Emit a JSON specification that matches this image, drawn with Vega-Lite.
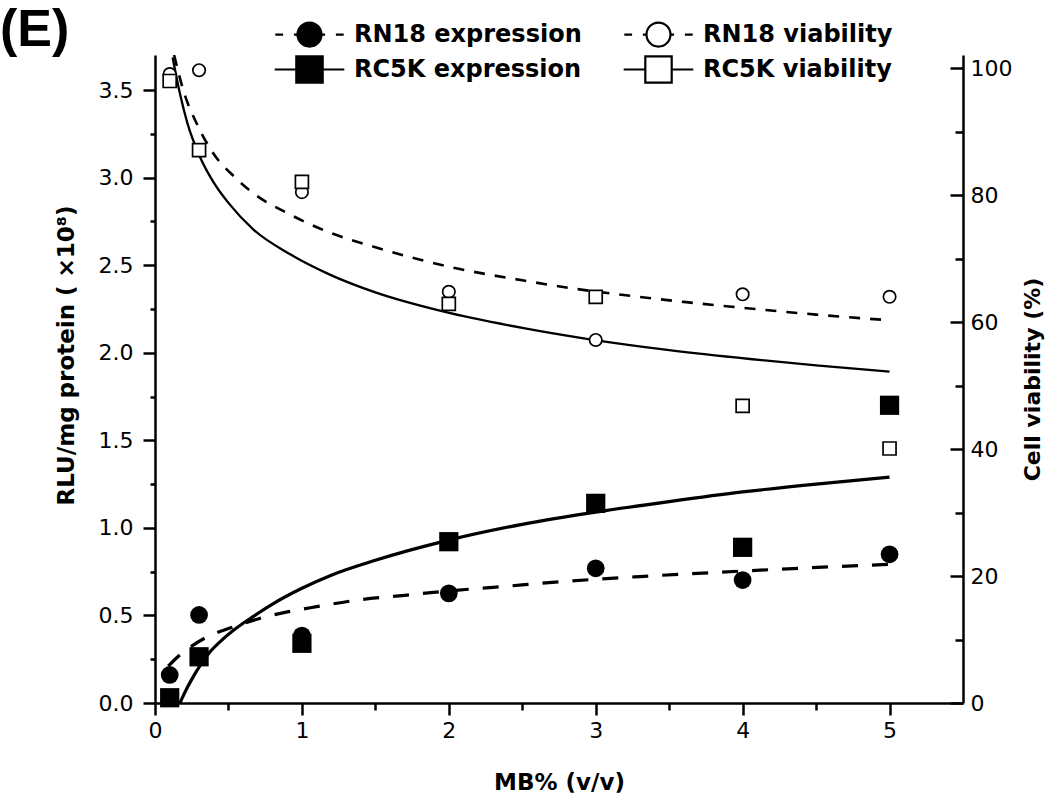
{
  "$schema": "https://vega.github.io/schema/vega-lite/v6.json",
  "width": 808,
  "height": 648,
  "autosize": {"type": "none"},
  "padding": {"left": 155, "top": 55, "right": 87, "bottom": 102},
  "background": "white",
  "title": {"text": "(E)", "anchor": "start", "frame": "group", "orient": "top", "dx": -155, "dy": 46, "font": "Liberation Sans", "fontSize": 52, "fontWeight": "bold", "color": "black", "offset": 10},
  "config": {"view": {"stroke": null}, "font": "DejaVu Sans"},
  "datasets": {
    "points": [
      {"series": "RN18 expression", "x": 0.1, "y": 0.16},
      {"series": "RN18 expression", "x": 0.3, "y": 0.503},
      {"series": "RN18 expression", "x": 1, "y": 0.385},
      {"series": "RN18 expression", "x": 2, "y": 0.626},
      {"series": "RN18 expression", "x": 3, "y": 0.769},
      {"series": "RN18 expression", "x": 4, "y": 0.702},
      {"series": "RN18 expression", "x": 5, "y": 0.849},
      {"series": "RC5K expression", "x": 0.1, "y": 0.03},
      {"series": "RC5K expression", "x": 0.3, "y": 0.264},
      {"series": "RC5K expression", "x": 1, "y": 0.341},
      {"series": "RC5K expression", "x": 2, "y": 0.921},
      {"series": "RC5K expression", "x": 3, "y": 1.14},
      {"series": "RC5K expression", "x": 4, "y": 0.889},
      {"series": "RC5K expression", "x": 5, "y": 1.7},
      {"series": "RN18 viability", "x": 0.1, "y": 99.1},
      {"series": "RN18 viability", "x": 0.3, "y": 99.7},
      {"series": "RN18 viability", "x": 1, "y": 80.5},
      {"series": "RN18 viability", "x": 2, "y": 64.8},
      {"series": "RN18 viability", "x": 3, "y": 57.2},
      {"series": "RN18 viability", "x": 4, "y": 64.4},
      {"series": "RN18 viability", "x": 5, "y": 64.0},
      {"series": "RC5K viability", "x": 0.1, "y": 98.0},
      {"series": "RC5K viability", "x": 0.3, "y": 87.1},
      {"series": "RC5K viability", "x": 1, "y": 82.1},
      {"series": "RC5K viability", "x": 2, "y": 62.9},
      {"series": "RC5K viability", "x": 3, "y": 64.0},
      {"series": "RC5K viability", "x": 4, "y": 46.8},
      {"series": "RC5K viability", "x": 5, "y": 40.1}
    ],
    "fits": [
      {"series": "RN18 expression", "x": 0.09, "y": 0.21},
      {"series": "RN18 expression", "x": 0.15, "y": 0.26},
      {"series": "RN18 expression", "x": 0.25, "y": 0.325},
      {"series": "RN18 expression", "x": 0.35, "y": 0.375},
      {"series": "RN18 expression", "x": 0.5, "y": 0.425},
      {"series": "RN18 expression", "x": 0.7, "y": 0.48},
      {"series": "RN18 expression", "x": 0.9, "y": 0.52},
      {"series": "RN18 expression", "x": 1.1, "y": 0.55},
      {"series": "RN18 expression", "x": 1.4, "y": 0.59},
      {"series": "RN18 expression", "x": 1.7, "y": 0.615},
      {"series": "RN18 expression", "x": 2.0, "y": 0.64},
      {"series": "RN18 expression", "x": 2.3, "y": 0.66},
      {"series": "RN18 expression", "x": 2.8, "y": 0.695},
      {"series": "RN18 expression", "x": 3.3, "y": 0.722},
      {"series": "RN18 expression", "x": 3.8, "y": 0.745},
      {"series": "RN18 expression", "x": 4.4, "y": 0.77},
      {"series": "RN18 expression", "x": 5.0, "y": 0.792},
      {"series": "RC5K expression", "x": 0.17, "y": 0.0},
      {"series": "RC5K expression", "x": 0.2, "y": 0.055},
      {"series": "RC5K expression", "x": 0.25, "y": 0.135},
      {"series": "RC5K expression", "x": 0.3, "y": 0.205},
      {"series": "RC5K expression", "x": 0.363, "y": 0.28},
      {"series": "RC5K expression", "x": 0.45, "y": 0.355},
      {"series": "RC5K expression", "x": 0.55, "y": 0.425},
      {"series": "RC5K expression", "x": 0.67, "y": 0.495},
      {"series": "RC5K expression", "x": 0.8, "y": 0.565},
      {"series": "RC5K expression", "x": 1.0, "y": 0.655},
      {"series": "RC5K expression", "x": 1.2, "y": 0.73},
      {"series": "RC5K expression", "x": 1.5, "y": 0.815},
      {"series": "RC5K expression", "x": 2.0, "y": 0.93},
      {"series": "RC5K expression", "x": 2.5, "y": 1.02},
      {"series": "RC5K expression", "x": 3.0, "y": 1.09},
      {"series": "RC5K expression", "x": 3.5, "y": 1.15},
      {"series": "RC5K expression", "x": 4.0, "y": 1.205},
      {"series": "RC5K expression", "x": 4.5, "y": 1.25},
      {"series": "RC5K expression", "x": 5.0, "y": 1.29},
      {"series": "RN18 viability", "x": 0.13, "y": 102.1},
      {"series": "RN18 viability", "x": 0.2, "y": 96.0},
      {"series": "RN18 viability", "x": 0.284, "y": 91.3},
      {"series": "RN18 viability", "x": 0.4, "y": 86.5},
      {"series": "RN18 viability", "x": 0.55, "y": 82.7},
      {"series": "RN18 viability", "x": 0.67, "y": 80.3},
      {"series": "RN18 viability", "x": 0.9, "y": 77.2},
      {"series": "RN18 viability", "x": 1.18, "y": 74.2},
      {"series": "RN18 viability", "x": 1.5, "y": 71.8},
      {"series": "RN18 viability", "x": 2.05, "y": 68.5},
      {"series": "RN18 viability", "x": 2.5, "y": 66.6},
      {"series": "RN18 viability", "x": 2.85, "y": 65.3},
      {"series": "RN18 viability", "x": 3.15, "y": 64.4},
      {"series": "RN18 viability", "x": 3.6, "y": 63.2},
      {"series": "RN18 viability", "x": 4.03, "y": 62.2},
      {"series": "RN18 viability", "x": 4.5, "y": 61.2},
      {"series": "RN18 viability", "x": 5.0, "y": 60.3},
      {"series": "RC5K viability", "x": 0.12, "y": 101.7},
      {"series": "RC5K viability", "x": 0.17, "y": 96.0},
      {"series": "RC5K viability", "x": 0.22, "y": 91.4},
      {"series": "RC5K viability", "x": 0.307, "y": 86.0},
      {"series": "RC5K viability", "x": 0.4, "y": 82.0},
      {"series": "RC5K viability", "x": 0.5, "y": 78.8},
      {"series": "RC5K viability", "x": 0.67, "y": 74.6},
      {"series": "RC5K viability", "x": 0.92, "y": 70.7},
      {"series": "RC5K viability", "x": 1.19, "y": 67.5},
      {"series": "RC5K viability", "x": 1.5, "y": 64.7},
      {"series": "RC5K viability", "x": 1.96, "y": 61.7},
      {"series": "RC5K viability", "x": 2.5, "y": 59.1},
      {"series": "RC5K viability", "x": 2.96, "y": 57.3},
      {"series": "RC5K viability", "x": 3.5, "y": 55.6},
      {"series": "RC5K viability", "x": 4.05, "y": 54.2},
      {"series": "RC5K viability", "x": 4.5, "y": 53.2},
      {"series": "RC5K viability", "x": 5.0, "y": 52.2}
    ]
  },
  "resolve": {"scale": {"y": "independent"}},
  "layer": [
    {
      "layer": [
        {
          "data": {"name": "fits"},
          "transform": [{"filter": "datum.series == 'RN18 expression'"}],
          "mark": {"type": "line", "stroke": "black", "strokeWidth": 3.2, "strokeDash": [16, 14], "interpolate": "monotone", "clip": true},
          "encoding": {
            "x": {"field": "x", "type": "quantitative", "scale": {"domain": [0, 5.5], "nice": false},
              "axis": {"values": [0, 0.5, 1, 1.5, 2, 2.5, 3, 3.5, 4, 4.5, 5], "labelExpr": "datum.value % 1 == 0 ? format(datum.value, 'd') : ''",
                "title": "MB% (v/v)", "tickSize": {"condition": {"test": "datum.value % 1 == 0", "value": 12}, "value": 7},
                "domainColor": "black", "domainWidth": 2.5, "tickColor": "black", "tickWidth": 2.5, "grid": false,
                "labelFont": "DejaVu Sans", "labelFontSize": 22, "labelColor": "black", "labelPadding": 5, "labelFlush": false, "labelOverlap": false,
                "titleFont": "DejaVu Sans", "titleFontWeight": "bold", "titleFontSize": 23, "titleColor": "black", "titlePadding": 30}},
            "y": {"field": "y", "type": "quantitative", "scale": {"domain": [0, 3.7], "nice": false},
              "axis": {"orient": "left", "values": [0, 0.25, 0.5, 0.75, 1, 1.25, 1.5, 1.75, 2, 2.25, 2.5, 2.75, 3, 3.25, 3.5],
                "labelExpr": "(datum.value * 4) % 2 == 0 ? format(datum.value, '.1f') : ''",
                "title": "RLU/mg protein ( ×10⁸)", "titleY": 300, "tickSize": {"condition": {"test": "(datum.value * 4) % 2 == 0", "value": 12}, "value": 5},
                "domainColor": "black", "domainWidth": 2.5, "tickColor": "black", "tickWidth": 2.5, "grid": false,
                "labelFont": "DejaVu Sans", "labelFontSize": 22, "labelColor": "black", "labelPadding": 10, "labelOverlap": false, "labelFlush": false,
                "titleFont": "DejaVu Sans", "titleFontWeight": "bold", "titleFontSize": 23, "titleColor": "black", "titlePadding": 20}}
          }
        },
        {
          "data": {"name": "fits"},
          "transform": [{"filter": "datum.series == 'RC5K expression'"}],
          "mark": {"type": "line", "stroke": "black", "strokeWidth": 3.2, "interpolate": "monotone", "clip": true},
          "encoding": {
            "x": {"field": "x", "type": "quantitative"},
            "y": {"field": "y", "type": "quantitative"}
          }
        },
        {
          "data": {"name": "points"},
          "transform": [{"filter": "datum.series == 'RN18 expression'"}],
          "mark": {"type": "point", "shape": "circle", "filled": true, "fill": "black", "stroke": "black", "strokeWidth": 0, "size": 314, "opacity": 1},
          "encoding": {
            "x": {"field": "x", "type": "quantitative"},
            "y": {"field": "y", "type": "quantitative"}
          }
        },
        {
          "data": {"name": "points"},
          "transform": [{"filter": "datum.series == 'RC5K expression'"}],
          "mark": {"type": "point", "shape": "square", "filled": true, "fill": "black", "stroke": "black", "strokeWidth": 0, "size": 370, "opacity": 1},
          "encoding": {
            "x": {"field": "x", "type": "quantitative"},
            "y": {"field": "y", "type": "quantitative"}
          }
        },
        {
          "data": {"name": "points"},
          "transform": [{"filter": "datum.series == 'RN18 expression' || datum.series == 'RC5K expression'"}],
          "mark": {"type": "point", "filled": true, "stroke": "black", "strokeWidth": 2.2, "size": 576, "opacity": 0},
          "encoding": {
            "x": {"field": "x", "type": "quantitative"},
            "y": {"field": "y", "type": "quantitative"},
            "shape": {"field": "series", "type": "nominal",
              "scale": {"domain": ["RN18 expression", "RC5K expression", "RN18 viability", "RC5K viability"],
                "range": ["M-2.85,0L-2.2,0M-1.3,0L-1,0M1,0L1.3,0M2.2,0L2.85,0M-1,0A1 1 0 1 0 1,0A1 1 0 1 0 -1,0Z",
                          "M-2.9,0L-1.1,0M1.1,0L2.9,0M-1.1,-1.1L1.1,-1.1L1.1,1.1L-1.1,1.1Z",
                          "M-2.85,0L-2.2,0M-1.3,0L-1,0M1,0L1.3,0M2.2,0L2.85,0M-1,0A1 1 0 1 0 1,0A1 1 0 1 0 -1,0Z",
                          "M-2.9,0L-1.1,0M1.1,0L2.9,0M-1.1,-1.1L1.1,-1.1L1.1,1.1L-1.1,1.1Z"]},
              "legend": {"title": null, "orient": "none", "legendX": 141, "legendY": -34, "columns": 2, "columnPadding": 37, "rowPadding": 0,
                "padding": 0, "symbolSize": 576, "labelOffset": 31, "labelLimit": 400,
                "labelFont": "DejaVu Sans", "labelFontWeight": "bold", "labelFontSize": 24, "labelColor": "black",
                "symbolStrokeColor": "black", "symbolStrokeWidth": 2.2, "symbolOpacity": 1,
                "encode": {"symbols": {"update": {"opacity": {"value": 1}, "stroke": {"value": "black"}, "strokeWidth": {"value": 2.2}}}}}},
            "fill": {"field": "series", "type": "nominal",
              "scale": {"domain": ["RN18 expression", "RC5K expression", "RN18 viability", "RC5K viability"],
                "range": ["black", "black", "white", "white"]},
              "legend": {"title": null, "orient": "none", "legendX": 141, "legendY": -34, "columns": 2, "columnPadding": 37, "rowPadding": 0,
                "padding": 0, "symbolSize": 576, "labelOffset": 31, "labelLimit": 400,
                "labelFont": "DejaVu Sans", "labelFontWeight": "bold", "labelFontSize": 24, "labelColor": "black",
                "symbolStrokeColor": "black", "symbolStrokeWidth": 2.2, "symbolOpacity": 1,
                "encode": {"symbols": {"update": {"opacity": {"value": 1}, "stroke": {"value": "black"}, "strokeWidth": {"value": 2.2}}}}}}
          }
        }
      ]
    },
    {
      "layer": [
        {
          "data": {"name": "fits"},
          "transform": [{"filter": "datum.series == 'RN18 viability'"}],
          "mark": {"type": "line", "stroke": "black", "strokeWidth": 2.6, "strokeDash": [11, 10], "interpolate": "monotone", "clip": true},
          "encoding": {
            "x": {"field": "x", "type": "quantitative"},
            "y": {"field": "y", "type": "quantitative", "scale": {"domain": [0, 102.1], "nice": false},
              "axis": {"orient": "right", "values": [0, 10, 20, 30, 40, 50, 60, 70, 80, 90, 100],
                "labelExpr": "datum.value % 20 == 0 ? format(datum.value, 'd') : ''",
                "title": "Cell viability (%)", "titleAngle": 270, "tickSize": {"condition": {"test": "datum.value % 20 == 0", "value": -13}, "value": -8},
                "domainColor": "black", "domainWidth": 2.5, "tickColor": "black", "tickWidth": 2.5, "grid": false,
                "labelFont": "DejaVu Sans", "labelFontSize": 22, "labelColor": "black", "labelPadding": 20, "labelOverlap": false, "labelFlush": false,
                "titleFont": "DejaVu Sans", "titleFontWeight": "bold", "titleFontSize": 22, "titleColor": "black", "titlePadding": 33}}
          }
        },
        {
          "data": {"name": "fits"},
          "transform": [{"filter": "datum.series == 'RC5K viability'"}],
          "mark": {"type": "line", "stroke": "black", "strokeWidth": 2.3, "interpolate": "monotone", "clip": true},
          "encoding": {
            "x": {"field": "x", "type": "quantitative"},
            "y": {"field": "y", "type": "quantitative"}
          }
        },
        {
          "data": {"name": "points"},
          "transform": [{"filter": "datum.series == 'RN18 viability'"}],
          "mark": {"type": "point", "shape": "circle", "filled": true, "fill": "white", "stroke": "black", "strokeWidth": 1.7, "size": 154, "opacity": 1},
          "encoding": {
            "x": {"field": "x", "type": "quantitative"},
            "y": {"field": "y", "type": "quantitative"}
          }
        },
        {
          "data": {"name": "points"},
          "transform": [{"filter": "datum.series == 'RC5K viability'"}],
          "mark": {"type": "point", "shape": "square", "filled": true, "fill": "white", "stroke": "black", "strokeWidth": 1.7, "size": 169, "opacity": 1},
          "encoding": {
            "x": {"field": "x", "type": "quantitative"},
            "y": {"field": "y", "type": "quantitative"}
          }
        }
      ]
    }
  ]
}
